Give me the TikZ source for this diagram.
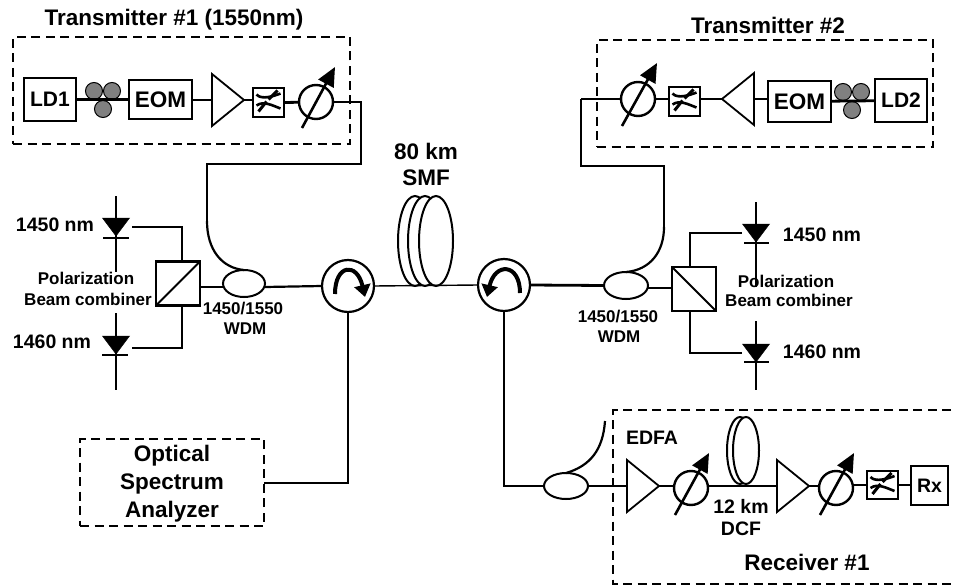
\documentclass[tikz,border=0pt]{standalone}
\usepackage{fontspec}
\setmainfont{Liberation Sans}
\usetikzlibrary{shapes.geometric,arrows.meta}
\tikzset{
  every node/.style={inner sep=0pt,outer sep=0pt,font=\bfseries},
  txtlarge/.style={font=\bfseries\fontsize{22.5}{26}\selectfont},
  txtmid/.style={font=\bfseries\fontsize{19.5}{23}\selectfont},
  txtsmall/.style={font=\bfseries\fontsize{17}{20}\selectfont},
  dashbox/.style={draw,line width=2.8pt,dash pattern=on 9pt off 5.5pt,rectangle},
  unitbox/.style={draw,line width=2pt,rectangle,fill=white},
  pckoil/.style={draw,line width=1pt,circle,fill=black!50,minimum size=17pt},
  filterbox/.style={draw,line width=2pt,rectangle,fill=white,minimum width=31pt,minimum height=29pt,
    path picture={
      \draw[line width=2.6pt] ([shift={(-12,-8)}]path picture bounding box.center)
        .. controls +(5,6) and +(-5,2) .. ([shift={(12,-9)}]path picture bounding box.center);
      \draw[line width=2.6pt] ([shift={(-12,3)}]path picture bounding box.center)
        .. controls +(7,-5) and +(-8,-3) .. ([shift={(12,6)}]path picture bounding box.center);
      \draw[line width=3pt] ([shift={(0,-3)}]path picture bounding box.center) -- ([shift={(9,-12)}]path picture bounding box.center);
      \draw[line width=3pt] ([shift={(-10,9)}]path picture bounding box.center) -- ([shift={(-2,-1)}]path picture bounding box.center);
    }},
  attcirc/.style={draw,line width=2.4pt,circle,minimum size=34pt},
  attarrow/.style={line width=2.6pt,-{Triangle[width=17pt,length=19pt]}},
  circul/.style={draw,line width=2.2pt,circle,minimum size=52pt},
  circarrow/.style={line width=4pt,-{Triangle[width=16pt,length=12pt]}},
  coupler/.style={draw,line width=2pt,ellipse,fill=white,minimum width=42pt,minimum height=27pt},
  spool/.style={draw,line width=2pt,ellipse,fill=white},
  pbscube/.style={draw,line width=2.2pt,rectangle,fill=white,minimum width=44pt,minimum height=44pt},
  ampl/.style={draw,line width=1.8pt,fill=white,isosceles triangle,isosceles triangle stretches,minimum width=52pt,minimum height=32pt},
  ampr/.style={ampl,shape border rotate=180},
  diodehead/.style={draw,fill=black,line width=.5pt,isosceles triangle,isosceles triangle stretches,shape border rotate=-90,minimum width=27pt,minimum height=18pt},
  thinfib/.style={line width=1.4pt},
  midfib/.style={line width=2.2pt},
  thickfib/.style={line width=2.8pt},
  diodebar/.style={line width=2.8pt}
}
\begin{document}
\begin{tikzpicture}[x=1pt,y=-1pt]
  \useasboundingbox (0,0) rectangle (953,586);
  % transmitter 1
  \node[dashbox,minimum width=337pt,minimum height=107pt] (tx1) at (181.5,90.5) {};
  \node[txtlarge] (tx1title) at (174,20) {Transmitter \#1 (1550nm)};
  \node[unitbox,minimum width=52pt,minimum height=43pt,font=\bfseries\fontsize{21}{24}\selectfont] (ld1) at (50,99.5) {LD1};
  \node[pckoil] (pc1a) at (94,91) {};
  \node[pckoil] (pc1b) at (112,91) {};
  \node[pckoil] (pc1c) at (103,109) {};
  \node[unitbox,minimum width=63pt,minimum height=39pt,txtlarge] (eom1) at (160.5,99.5) {EOM};
  \node[ampl,anchor=lower side] (amp1) at (212,100) {};
  \node[filterbox] (flt1) at (268.5,102.5) {};
  \node[attcirc] (att1) at (316,102) {};
  \coordinate (tx1c1) at (361,164);
  \coordinate (tx1c2) at (207,164);
  \coordinate (tx1c3) at (207,221);
  % transmitter 2
  \node[dashbox,minimum width=336pt,minimum height=107pt] (tx2) at (765,93.5) {};
  \node[txtlarge] (tx2title) at (768,25) {Transmitter \#2};
  \node[attcirc] (att2) at (638,99) {};
  \node[filterbox] (flt2) at (684.5,101.5) {};
  \node[ampr,anchor=lower side] (amp2) at (754,99) {};
  \node[unitbox,minimum width=63pt,minimum height=41pt,txtlarge] (eom2) at (799.5,101.5) {EOM};
  \node[pckoil] (pc2a) at (843,92) {};
  \node[pckoil] (pc2b) at (861,92) {};
  \node[pckoil] (pc2c) at (852,110) {};
  \node[unitbox,minimum width=52pt,minimum height=43pt,font=\bfseries\fontsize{21}{24}\selectfont] (ld2) at (901,100.5) {LD2};
  \coordinate (tx2c1) at (581,99);
  \coordinate (tx2c2) at (581,166);
  \coordinate (tx2c3) at (664,166);
  \coordinate (tx2c4) at (664,227);
  % pumps left
  \coordinate (dl1top) at (116,196);
  \coordinate (dl1low) at (116,272);
  \coordinate (dl2top) at (116,313);
  \coordinate (dl2low) at (116,390);
  \node[diodehead,anchor=apex] (dl1) at (116,236) {};
  \node[diodehead,anchor=apex] (dl2) at (116,354) {};
  \coordinate (dl1barl) at (103,238);
  \coordinate (dl1barr) at (129,238);
  \coordinate (dl2barl) at (102,355);
  \coordinate (dl2barr) at (128,355);
  \coordinate (dl1in) at (132,227);
  \coordinate (dl2in) at (132,348);
  \coordinate (dl1c) at (182,227);
  \coordinate (dl2c) at (182,348);
  \node[txtmid] (dl1txt) at (55,225) {1450 nm};
  \node[txtmid] (dl2txt) at (52,342) {1460 nm};
  \node[txtsmall] (pbl1txt) at (86,278) {Polarization};
  \node[txtsmall] (pbl2txt) at (88,299) {Beam combiner};
  \node[pbscube] (pbs1) at (178,283.5) {};
  \node[coupler] (wdm1) at (244,283.5) {};
  \node[txtsmall] (wdm1a) at (243,309) {1450/1550};
  \node[txtsmall] (wdm1b) at (245,329) {WDM};
  % pumps right
  \coordinate (dr1top) at (756,202);
  \coordinate (dr1low) at (756,287);
  \coordinate (dr2top) at (756,321);
  \coordinate (dr2low) at (756,390);
  \node[diodehead,anchor=apex] (dr1) at (756,242) {};
  \node[diodehead,anchor=apex] (dr2) at (756,362) {};
  \coordinate (dr1barl) at (744,243);
  \coordinate (dr1barr) at (769,243);
  \coordinate (dr2barl) at (744,362);
  \coordinate (dr2barr) at (769,362);
  \coordinate (dr1in) at (742,233);
  \coordinate (dr2in) at (742,353);
  \coordinate (dr1c) at (690,233);
  \coordinate (dr2c) at (690,353);
  \node[txtmid] (dr1txt) at (822,235) {1450 nm};
  \node[txtmid] (dr2txt) at (822,352) {1460 nm};
  \node[txtsmall] (pbr1txt) at (786,281) {Polarization};
  \node[txtsmall] (pbr2txt) at (789,300) {Beam combiner};
  \node[pbscube] (pbs2) at (694,289) {};
  \node[coupler,minimum width=44pt] (wdm2) at (626,285.5) {};
  \node[txtsmall] (wdm2a) at (618,317) {1450/1550};
  \node[txtsmall] (wdm2b) at (619,337) {WDM};
  % span
  \node[circul] (circ1) at (348,286) {};
  \node[circul] (circ2) at (504,285) {};
  \node[txtlarge] (smf1) at (426,151) {80 km};
  \node[txtlarge] (smf2) at (426,178) {SMF};
  \node[spool,minimum width=34pt,minimum height=90pt] (smfa) at (415,241) {};
  \node[spool,minimum width=34pt,minimum height=90pt] (smfb) at (425,241) {};
  \node[spool,minimum width=34pt,minimum height=90pt] (smfc) at (436,241) {};
  % analyzer
  \node[dashbox,minimum width=184pt,minimum height=87pt] (osa) at (172,482.5) {};
  \node[txtlarge,align=center] (osatxt) at (172,484) {Optical\\[2pt]Spectrum\\[2pt]Analyzer};
  \coordinate (osac) at (348,483);
  % receiver
  \coordinate (rxa) at (951,410);
  \coordinate (rxb) at (613,410);
  \coordinate (rxc) at (613,584);
  \coordinate (rxd) at (951,584);
  \node[txtlarge] (rxtitle) at (807,562) {Receiver \#1};
  \node[txtmid] (edfatxt) at (652,438) {EDFA};
  \node[coupler,minimum width=44pt,minimum height=26pt] (cpl) at (566,486) {};
  \node[ampl,anchor=lower side] (amp3) at (627,486) {};
  \node[attcirc] (att3) at (691,488) {};
  \node[spool,minimum width=26pt,minimum height=67pt] (dcfa) at (740,450.5) {};
  \node[spool,minimum width=26pt,minimum height=67pt] (dcfb) at (746,450.5) {};
  \node[txtmid] (dcf1) at (741,506) {12 km};
  \node[txtmid] (dcf2) at (741,529) {DCF};
  \node[ampl,anchor=lower side] (amp4) at (777,486) {};
  \node[attcirc] (att4) at (836,488) {};
  \node[filterbox,minimum height=28pt] (flt3) at (882.5,485) {};
  \node[unitbox,minimum width=37pt,minimum height=39pt,txtmid] (rx1) at (929.5,485.5) {Rx};
  \coordinate (cplend) at (605,421);
  \coordinate (rxc1) at (504,486);
  % fibres
  \begin{scope}[-]
    \draw[dashbox] (rxa) to (rxb) to (rxc) to (rxd);
    \draw[thickfib] (ld1) to (eom1);
    \draw[thinfib] (eom1.east |- amp1.lower side) to (amp1.lower side);
    \draw[midfib] (amp1.apex) to (flt1.west |- amp1.apex);
    \draw[thickfib] (flt1.east) to (att1);
    \draw[midfib] (att1) to (tx1c1 |- att1) to (tx1c1) to (tx1c2) to (tx1c3);
    \draw[midfib] (tx1c3) .. controls (207,250) and (222,268) .. (wdm1.north);
    \draw[thickfib] (ld2) to (eom2);
    \draw[midfib] (eom2.west |- amp2.lower side) to (amp2.lower side);
    \draw[midfib] (amp2.apex) to (flt2.east |- amp2.apex);
    \draw[midfib] (flt2.west |- att2) to (att2);
    \draw[midfib] (att2) to (tx2c1);
    \draw[thickfib] (tx2c1) to (tx2c2) to (tx2c3) to (tx2c4);
    \draw[midfib] (tx2c4) .. controls (664,252) and (650,270) .. (wdm2.north);
    \draw[thickfib] (dl1top) to (dl1.apex);
    \draw[thickfib] (dl1.apex) to (dl1low);
    \draw[diodebar] (dl1barl) to (dl1barr);
    \draw[thickfib] (dl2top) to (dl2.apex);
    \draw[thickfib] (dl2.apex) to (dl2low);
    \draw[diodebar] (dl2barl) to (dl2barr);
    \draw[midfib] (dl1in) to (dl1c) to (pbs1.north -| dl1c);
    \draw[midfib] (dl2in) to (dl2c) to (pbs1.south -| dl2c);
    \draw[line width=1.8pt] (pbs1.south west) to (pbs1.north east);
    \draw[thickfib] ([yshift=-3.5pt]pbs1.east) to ([yshift=-3.5pt]wdm1.west);
    \draw[midfib] ([yshift=-3.5pt]wdm1.east) to (circ1.west);
    \draw[thinfib] (circ1.east) to (circ2.west);
    \draw[thickfib] (circ2.east) to (wdm2.west);
    \draw[midfib] ([yshift=-2.5pt]wdm2.east) to ([yshift=1pt]pbs2.west);
    \draw[thickfib] (dr1top) to (dr1.apex);
    \draw[thickfib] (dr1.apex) to (dr1low);
    \draw[diodebar] (dr1barl) to (dr1barr);
    \draw[thickfib] (dr2top) to (dr2.apex);
    \draw[thickfib] (dr2.apex) to (dr2low);
    \draw[diodebar] (dr2barl) to (dr2barr);
    \draw[midfib] (dr1in) to (dr1c) to (pbs2.north -| dr1c);
    \draw[midfib] (dr2in) to (dr2c) to (pbs2.south -| dr2c);
    \draw[line width=1.8pt] (pbs2.north west) to (pbs2.south east);
    \draw[thickfib] (circ1.south) to (osac) to (osa.east |- osac);
    \draw[thickfib] (circ2.south) to (rxc1) to (cpl.west);
    \draw[midfib] (cpl.east) to (amp3.lower side);
    \draw[midfib] (cpl.north) .. controls (590,466) and (603,450) .. (cplend);
    \draw[midfib] (amp3.apex) to (att3.west |- amp3.apex);
    \draw[midfib] (att3.east |- amp3.apex) to (amp4.lower side);
    \draw[midfib] (amp4.apex) to (att4.west |- amp4.apex);
    \draw[midfib] (att4.east |- flt3.west) to (flt3.west);
    \draw[midfib] (flt3.east) to (rx1.west |- flt3.east);
    \draw[attarrow] ([shift={(-14,26)}]att1.center) to ([shift={(19,-35)}]att1.center);
    \draw[attarrow] ([shift={(-16,27)}]att2.center) to ([shift={(19,-36)}]att2.center);
    \draw[attarrow] ([shift={(-16,27)}]att3.center) to ([shift={(18,-35)}]att3.center);
    \draw[attarrow] ([shift={(-16,27)}]att4.center) to ([shift={(18,-35)}]att4.center);
    \draw[circarrow] ([shift={(-13,8)}]circ1.center) .. controls +(0,-30) and +(-8,-35) .. ([shift={(17,11)}]circ1.center);
    \draw[circarrow] ([shift={(16,8)}]circ2.center) .. controls +(0,-30) and +(8,-35) .. ([shift={(-17,12)}]circ2.center);
  \end{scope}
\end{tikzpicture}
\end{document}
